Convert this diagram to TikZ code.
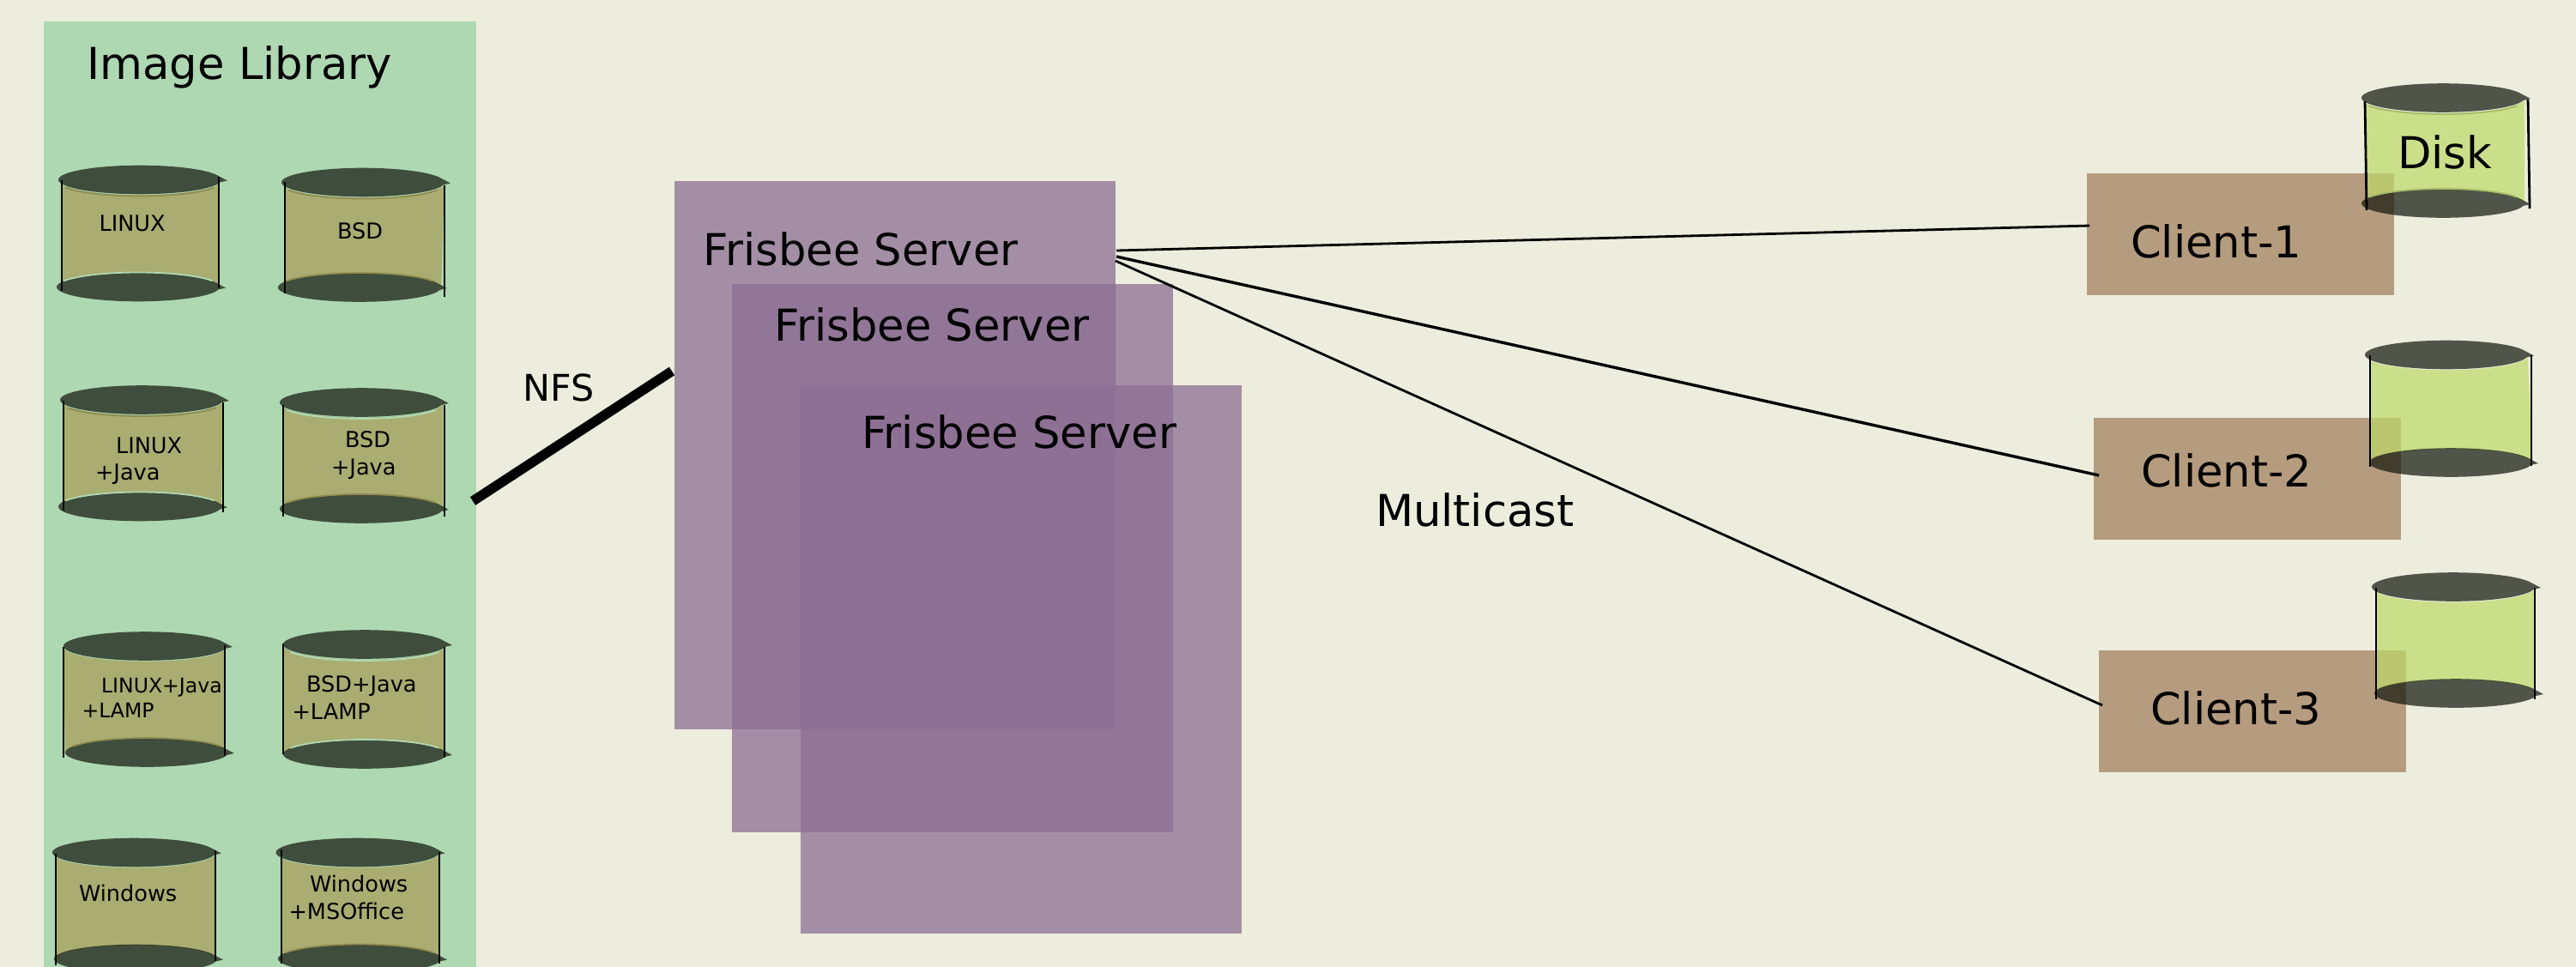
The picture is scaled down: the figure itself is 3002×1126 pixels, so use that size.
\documentclass[tikz,border=0pt]{standalone}
\usepackage{fontspec}
\setmainfont{DejaVu Sans}
\usetikzlibrary{calc}
\definecolor{bgcol}{HTML}{ECEDDC}
\definecolor{panelcol}{HTML}{AED8B2}
\definecolor{servercol}{HTML}{8D6F94}
\definecolor{clientcol}{HTML}{B69C7E}
\definecolor{capcol}{HTML}{10140A}
\definecolor{libbody}{HTML}{A89C56}
\definecolor{diskbody}{HTML}{BDDA6A}
\definecolor{libshade}{HTML}{8F8C52}
\definecolor{diskshade}{HTML}{A6BC68}
\newcommand{\fs}[1]{\fontsize{#1}{#1}\selectfont}
\tikzset{
  serverbox/.style={rectangle,inner sep=0,outer sep=0,anchor=north west,fill=servercol,fill opacity=.75,minimum width=257pt,minimum height=319.5pt},
  clientbox/.style={rectangle,inner sep=0,outer sep=0,anchor=north west,fill=clientcol,minimum width=179pt,minimum height=71pt},
  lbl/.style={inner sep=0,outer sep=0,anchor=base west,text=black},
  small/.style={lbl,font=\fs{12.8}},
  smaller/.style={lbl,font=\fs{11.8}},
  big/.style={lbl,font=\fs{25.6}},
  srvlbl/.style={lbl,font=\fs{25.6}},
  sideline/.style={draw=black,line width=1.4pt},
  capfill/.style={fill=capcol,fill opacity=.7},
  link/.style={draw=black,line width=1.4pt},
  stripline/.style={line width=0.9pt,line cap=round},
}
% left x of ellipse, centre y
\newcommand{\capshape}[2]{%
  \fill[capfill] ({#1+197},#2) -- ({#1+95+95*cos(22)},{#2-16.8*sin(22)-1})
    arc[start angle=-22,end angle=-350,x radius=95,y radius=16.8] -- cycle;}
% xTop yTop xBottom yBottom leftclip rightclip colour
\newcommand{\cylbody}[7]{%
  \begin{scope}
    \clip (#5,{#2-40}) rectangle (#6,{#4+40});
    \fill[#7,fill opacity=.7] (#1,#2) arc[start angle=180,end angle=0,x radius=95,y radius=16.8]
      -- ({#3+190},#4) arc[start angle=0,end angle=-180,x radius=95,y radius=16.8] -- cycle;
  \end{scope}
  \capshape{#1}{#2}\capshape{#3}{#4}}
% thin band just below a top cap: left x, centre y, colour
\newcommand{\bandtop}[3]{%
  \draw[stripline,#3] ({#1+95+95*cos(155)},{#2+1.2+16.8*sin(155)})
    arc[start angle=155,end angle=25,x radius=95,y radius=16.8];}
% thin band just above a bottom cap
\newcommand{\bandbot}[3]{%
  \draw[stripline,#3] ({#1+95+95*cos(25)},{#2-1.2-16.8*sin(25)})
    arc[start angle=-25,end angle=-155,x radius=95,y radius=16.8];}
\begin{document}
\begin{tikzpicture}[x=0.5pt,y=-0.5pt]
\useasboundingbox (0,0) rectangle (3002,1126);
\fill[bgcol] (-10,-10) rectangle (3012,1140);
\fill[panelcol] (51,25) rectangle (555,1140);
\coordinate (panelE) at (555,584);

% library cylinders
\cylbody{68}{210.5}{66}{335.5}{72}{255}{libbody}
\bandtop{68}{210.5}{libshade}\bandbot{66}{335.5}{panelcol}
\draw[sideline] (72,210)--(72,339) (255,206)--(255,336);
\cylbody{328}{213.5}{324}{336}{332}{518}{libbody}
\bandtop{328}{213.5}{libshade}\bandbot{324}{336}{libshade}
\draw[sideline] (332,212)--(332,342) (518,216)--(518,346);
\cylbody{70}{467}{68}{591.5}{74}{260}{libbody}
\bandtop{70}{467}{libshade}\bandbot{68}{591.5}{panelcol}
\draw[sideline] (74,467)--(74,595) (260,469)--(260,597);
\cylbody{326}{470}{326}{594}{330}{518}{libbody}
\bandtop{326}{470}{panelcol}\bandbot{326}{594}{libshade}
\draw[sideline] (330,472)--(330,602) (518,472)--(518,602);
\cylbody{74}{754}{76}{878}{74}{262}{libbody}
\bandbot{76}{878}{libshade}
\draw[sideline] (74,754)--(74,883) (262,752)--(262,881);
\cylbody{330}{752}{330}{880}{330}{518}{libbody}
\bandtop{330}{752}{panelcol}\bandbot{330}{880}{panelcol}
\draw[sideline] (330,750)--(330,879) (518,754)--(518,883);
\cylbody{61}{994.5}{63}{1118.5}{65}{251}{libbody}
\draw[sideline] (65,995)--(65,1125) (251,991)--(251,1120);
\cylbody{321.5}{994.5}{324}{1118.5}{328}{512}{libbody}
\bandbot{324}{1118.5}{libshade}
\draw[sideline] (328,990)--(328,1123) (512,993)--(512,1123);

\node[big] (libtitle) at (101.5,92) {Image Library};
\node[small] (t1) at (115.5,269) {LINUX};
\node[small] (t2) at (393,278) {BSD};
\node[small] (t3a) at (135,528) {LINUX};
\node[small] (t3b) at (111,559.5) {+Java};
\node[small] (t4a) at (402,521) {BSD};
\node[small] (t4b) at (386,553.5) {+Java};
\node[smaller] (t5a) at (118,807) {LINUX+Java};
\node[smaller] (t5b) at (95.5,836) {+LAMP};
\node[small] (t6a) at (357,806.7) {BSD+Java};
\node[small] (t6b) at (340.5,838) {+LAMP};
\node[small] (t7) at (92,1050.5) {Windows};
\node[small] (t8a) at (361,1039) {Windows};
\node[small] (t8b) at (336.5,1071) {+MSOffice};

% servers
\node[serverbox] (srvA) at (786,211) {};
\node[serverbox] (srvB) at (853,331) {};
\node[serverbox] (srvC) at (933,449) {};
\node[srvlbl] (srvAt) at (819.5,309.5) {Frisbee Server};
\node[srvlbl] (srvBt) at (902.5,397) {Frisbee Server};
\node[srvlbl] (srvCt) at (1004,522.5) {Frisbee Server};

% clients
\node[clientbox] (cliA) at (2432,202) {};
\node[clientbox] (cliB) at (2440,487) {};
\node[clientbox] (cliC) at (2446,758) {};

% client disks
\cylbody{2752}{115}{2752}{238}{2757}{2947}{diskbody}
\bandtop{2752}{115}{diskshade}\bandbot{2752}{238}{diskshade}
\draw[sideline] (2756,118)--(2758,245) (2946,116)--(2948,243);
\cylbody{2756}{414.5}{2761}{540}{2762}{2950}{diskbody}
\draw[sideline] (2762,414)--(2762,544) (2950,414)--(2950,543);
\cylbody{2764}{685}{2767}{809}{2769}{2954}{diskbody}
\draw[sideline] (2769,685)--(2769,815) (2954,685)--(2954,815);

\node[big] (diskt) at (2794,196) {Disk};
\node[big] (cliAt) at (2483,300) {Client-1};
\node[big] (cliBt) at (2495,567) {Client-2};
\node[big] (cliCt) at (2506,844) {Client-3};
\node[lbl,font=\fs{21.4}] (nfs) at (609.5,467) {NFS};
\node[big] (mcast) at (1603,613) {Multicast};

% connectors
\coordinate (nfsA) at ($(panelE)+(-4,0)$);
\coordinate (nfsB) at ($(srvA.north west)+(-3,221.5)$);
\draw[draw=black,line width=5.7pt] (nfsA) -- (nfsB);
\coordinate (m1a) at ($(srvA.north east)+(1,81)$);
\coordinate (m2a) at ($(srvA.north east)+(1,88)$);
\coordinate (m3a) at ($(srvA.north east)+(0,93)$);
\coordinate (m1b) at ($(cliA.north west)+(3,61)$);
\coordinate (m2b) at ($(cliB.north west)+(6,67)$);
\coordinate (m3b) at ($(cliC.north west)+(4,64)$);
\draw[link] (m1a) -- (m1b);
\draw[link,line width=1.7pt] (m2a) -- (m2b);
\draw[link] (m3a) -- (m3b);
\end{tikzpicture}
\end{document}
